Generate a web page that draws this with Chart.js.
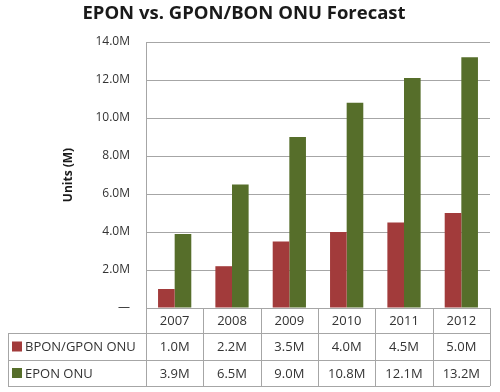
<!DOCTYPE html>
<html>
<head>
<meta charset="utf-8">
<script src="https://cdn.jsdelivr.net/npm/chart.js@4/dist/chart.umd.min.js"></script>
<style>
  html, body { margin: 0; padding: 0; background: #fff; }
  #wrap { width: 500px; height: 392px; position: relative; }
</style>
</head>
<body>
<div id="wrap"><canvas id="myChart" width="500" height="392"></canvas></div>
<script>
const years = ['2007', '2008', '2009', '2010', '2011', '2012'];
const bponGpon = [1.0, 2.2, 3.5, 4.0, 4.5, 5.0];
const epon = [3.9, 6.5, 9.0, 10.8, 12.1, 13.2];
const seriesNames = ['BPON/GPON ONU', 'EPON ONU'];
const seriesColors = ['#A23B3B', '#566E2A'];
const chartTitle = 'EPON vs. GPON/BON ONU Forecast';

const fontName = "'Open Sans', 'DejaVu Sans', sans-serif";
const lineColor = '#a6a6a6';

function fmt(v) {
  return v.toFixed(1) + 'M';
}

// titre + tableau de données sous le graphe
const tablePlugin = {
  id: 'tablePlugin',
  afterDraw(chart) {
    const ctx = chart.ctx;
    const xs = chart.scales.x;
    const area = chart.chartArea;
    const n = years.length;
    const colW = (area.right - area.left) / n;
    const top = area.bottom;
    const rows = [top, top + 25, top + 52, top + 78];
    const leftX = 8;

    ctx.save();
    // titre
    ctx.fillStyle = '#1a1a1a';
    ctx.font = "bold 18.5px " + fontName;
    ctx.textAlign = 'center';
    ctx.textBaseline = 'middle';
    ctx.fillText(chartTitle, 244, 14);

    // lignes du tableau
    ctx.strokeStyle = lineColor;
    ctx.lineWidth = 1;
    ctx.beginPath();
    ctx.moveTo(area.left, rows[0] + 0.5);
    ctx.lineTo(area.right, rows[0] + 0.5);
    for (let r = 1; r < rows.length; r++) {
      ctx.moveTo(leftX, rows[r] + 0.5);
      ctx.lineTo(area.right, rows[r] + 0.5);
    }
    for (let i = 0; i <= n; i++) {
      const x = Math.round(area.left + i * colW) + 0.5;
      ctx.moveTo(x, rows[0]);
      ctx.lineTo(x, rows[3]);
    }
    ctx.moveTo(leftX + 0.5, rows[1]);
    ctx.lineTo(leftX + 0.5, rows[3]);
    ctx.stroke();

    // textes
    ctx.font = "13px " + fontName;
    ctx.fillStyle = '#333';
    for (let i = 0; i < n; i++) {
      const cx = xs.getPixelForValue(i);
      ctx.fillText(years[i], cx, (rows[0] + rows[1]) / 2 + 1);
      ctx.fillText(fmt(bponGpon[i]), cx, (rows[1] + rows[2]) / 2 + 1);
      ctx.fillText(fmt(epon[i]), cx, (rows[2] + rows[3]) / 2 + 1);
    }
    ctx.textAlign = 'left';
    for (let r = 0; r < 2; r++) {
      const cy = (rows[r + 1] + rows[r + 2]) / 2;
      ctx.fillStyle = seriesColors[r];
      ctx.fillRect(12, cy - 5, 10, 10);
      ctx.fillStyle = '#333';
      ctx.fillText(seriesNames[r], 25, cy + 1);
    }
    ctx.restore();
  }
};

new Chart(document.getElementById('myChart'), {
  type: 'bar',
  data: {
    labels: years,
    datasets: [
      { label: seriesNames[0], data: bponGpon, backgroundColor: seriesColors[0] },
      { label: seriesNames[1], data: epon, backgroundColor: seriesColors[1] }
    ]
  },
  options: {
    responsive: false,
    animation: false,
    layout: { padding: { left: 57, top: 42, right: 10, bottom: 84 } },
    datasets: { bar: { categoryPercentage: 0.58, barPercentage: 1.0 } },
    plugins: {
      legend: { display: false },
      title: { display: false },
      tooltip: { enabled: false }
    },
    scales: {
      x: { display: false },
      y: {
        min: 0,
        max: 14,
        afterFit(scale) { scale.width = 89; },
        ticks: {
          stepSize: 2,
          padding: 16,
          color: '#333',
          font: { family: fontName, size: 12 },
          callback: function (v) { return v === 0 ? '—' : fmt(v); }
        },
        grid: { color: lineColor, drawTicks: false },
        border: { color: lineColor },
        title: {
          display: true,
          text: 'Units (M)',
          color: '#1a1a1a',
          font: { family: fontName, size: 12, weight: 'bold' },
          padding: 4
        }
      }
    }
  },
  plugins: [tablePlugin]
});
</script>
</body>
</html>
